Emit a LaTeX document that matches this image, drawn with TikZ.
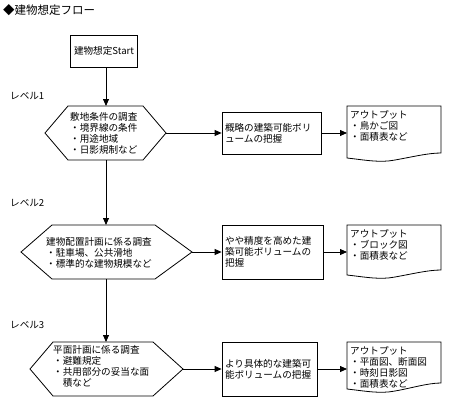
\documentclass[tikz,border=0pt]{standalone}
\usepackage{fontspec}
\setmainfont{Noto Sans CJK JP}
\usepackage{tikz}
\usetikzlibrary{arrows.meta,positioning}

\begin{document}
\begin{tikzpicture}[
    x=1pt,y=-1pt,
    font=\fontsize{9.6}{11}\selectfont,
    line/.style={line width=0.8pt},
    box/.style={draw,line width=0.8pt,align=left,inner xsep=3pt,inner ysep=2pt},
    txt/.style={anchor=west,align=left,inner sep=0pt},
    doc/.style={anchor=north west,align=left,text width=88pt,inner xsep=3pt,inner ysep=4pt},
    arr/.style={-{Triangle[length=7pt,width=6pt]},line width=0.8pt}
  ]
    \useasboundingbox (0,0) rectangle (450,402);
    \node[anchor=west,inner sep=0pt,font=\fontsize{11.5}{13}\selectfont] (title) at (3,10) {◆建物想定フロー};
    \node[box,minimum width=67pt,minimum height=32pt,align=center] (st) at (104,51) {建物想定Start};

    % level 1
    \node[txt] (lv1) at (10,96) {レベル1};
    \draw[line] (45,133) coordinate (h1l) -- (68,106) -- (143,106) -- (166,133) coordinate (h1r)
      -- (143,160) -- (68,160) -- cycle;
    \coordinate (h1t) at (106,106);
    \coordinate (h1b) at (106,160);
    \node[txt] (t1) at (70,133) {敷地条件の調査\\・境界線の条件\\・用途地域\\・日影規制など};
    \node[box,text width=93pt,minimum height=42pt] (b1) at (271.5,133) {概略の建築可能ボリ\\ュームの把握};
    \node[doc] (o1) at (347,106) {アウトプット\\・鳥かご図\\・面積表など};
    \draw[line] (347,106) -- (441,106) -- (441,153) .. controls (428,153) and (412,157) .. (395,160)
      .. controls (380,163) and (365,160) .. (347,158) -- cycle;

    % level 2
    \node[txt] (lv2) at (10,203) {レベル2};
    \draw[line] (21,252) coordinate (h2l) -- (52,225) -- (155,225) -- (192,252) coordinate (h2r)
      -- (155,279) -- (52,279) -- cycle;
    \coordinate (h2t) at (106,225);
    \coordinate (h2b) at (106,279);
    \node[txt] (t2) at (46,253) {建物配置計画に係る調査\\・駐車場、公共滑地\\・標準的な建物規模など};
    \node[box,text width=95pt,minimum height=54pt] (b2) at (272.5,252) {やや精度を高めた建\\築可能ボリュームの\\把握};
    \node[doc] (o2) at (347,225) {アウトプット\\・ブロック図\\・面積表など};
    \draw[line] (347,225) -- (441,225) -- (441,270) .. controls (428,270) and (412,274) .. (395,277)
      .. controls (380,280) and (365,277) .. (347,275) -- cycle;

    % level 3
    \node[txt] (lv3) at (10,325) {レベル3};
    \draw[line] (30,369) coordinate (h3l) -- (53,342) -- (153,342) -- (183,369) coordinate (h3r)
      -- (153,396) -- (53,396) -- cycle;
    \coordinate (h3t) at (106,342);
    \node[txt] (t3) at (53,366) {平面計画に係る調査\\・避難規定\\・共用部分の妥当な面\\\hspace*{1em}積など};
    \node[box,text width=89pt,minimum height=54pt] (b3) at (269.5,369) {より具体的な建築可\\能ボリュームの把握};
    \node[doc] (o3) at (347,342) {アウトプット\\・平面図、断面図\\・時刻日影図\\・面積表など};
    \draw[line] (347,342) -- (441,342) -- (441,383) .. controls (428,383) and (412,388) .. (395,391)
      .. controls (380,394) and (365,391) .. (347,389) -- cycle;

    % connectors
    \draw[arr] (st.south -| h1t) -- (h1t);
    \draw[arr] (h1b) -- (h2t);
    \draw[arr] (h2b) -- (h3t);
    \draw[arr] (h1r) -- (b1.west);
    \draw[arr] (h2r) -- (b2.west);
    \draw[arr] (h3r) -- (b3.west);
    \draw[arr] (b1.east) -- (b1.east -| o1.west);
    \draw[arr] (b2.east) -- (b2.east -| o2.west);
    \draw[arr] (b3.east) -- (b3.east -| o3.west);
  \end{tikzpicture}
\end{document}
